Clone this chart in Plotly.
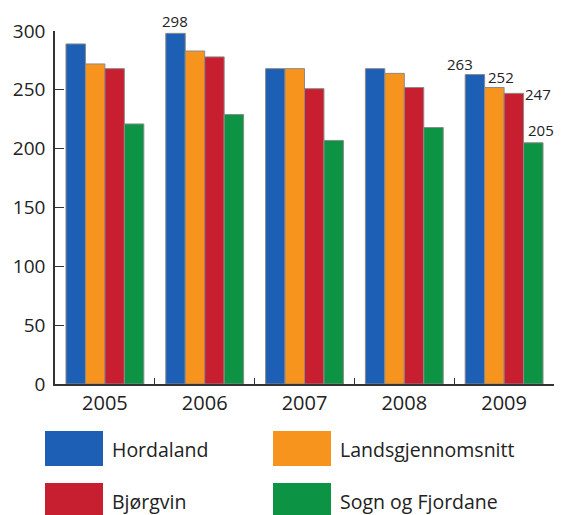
import plotly.graph_objects as go

years = ["2005", "2006", "2007", "2008", "2009"]
series = ["Hordaland", "Landsgjennomsnitt", "Bjørgvin", "Sogn og Fjordane"]
hordaland = [289, 298, 268, 268, 263]
landsgjennomsnitt = [272, 283, 268, 264, 252]
bjorgvin = [268, 278, 251, 252, 247]
sogn_og_fjordane = [221, 229, 207, 218, 205]
colors = ["#1d5fb4", "#f7941d", "#c81f30", "#0c9444"]

values = [hordaland, landsgjennomsnitt, bjorgvin, sogn_og_fjordane]
font = "Open Sans, DejaVu Sans, sans-serif"

# the page body has an 8px margin, so the figure is drawn 8px smaller
OFF = 8
W, H = 563 - OFF, 515 - OFF
L, R, T, B = 55 - OFF, 9, 31 - OFF, 131


def px(x, y):
    # pixel position in the window -> paper coordinates
    x, y = x - OFF, y - OFF
    return (x - L) / (W - L - R), (H - B - y) / (H - T - B)


fig = go.Figure()
for name, vals, col in zip(series, values, colors):
    fig.add_trace(go.Bar(x=years, y=vals, name=name,
                         marker=dict(color=col, line=dict(color="#8a8a8a", width=1))))

# value labels: (year index, series index, x nudge, y nudge)
labels = [(1, 0, 0, 0), (4, 0, -15, -1), (4, 1, 7, -2), (4, 2, 24, -13), (4, 3, 8, 1)]
anns = []
for yi, si, dx, dy in labels:
    v = values[si][yi]
    bar_shift = (si - 1.5) * 19.5
    # x in paper units (category centre) so labels past the axis end are not clipped
    anns.append(dict(x=(yi + 0.5) / len(years), y=v, xref="paper", yref="y",
                     text=str(v), showarrow=False, xanchor="center",
                     xshift=bar_shift + dx, yshift=dy, yanchor="bottom",
                     font=dict(size=15, color="#222", family=font)))

# custom legend with large swatches
legend_pos = [(45, 431), (273, 431), (45, 483), (273, 483)]
shapes = []
for (lx, ly), name, col in zip(legend_pos, series, colors):
    x0, y0 = px(lx, ly)
    x1, y1 = px(lx + 58, ly + 35)
    shapes.append(dict(type="rect", xref="paper", yref="paper", x0=x0, y0=y1, x1=x1, y1=y0,
                       fillcolor=col, line=dict(width=0), layer="above"))
    tx, ty = px(lx + 65, ly + 18)
    anns.append(dict(x=tx, y=ty, xref="paper", yref="paper", text=name, showarrow=False,
                     xanchor="left", yanchor="middle",
                     font=dict(size=19.5, color="#222", family=font)))

fig.update_layout(
    width=W, height=H,
    margin=dict(l=L, r=R, t=T, b=B, autoexpand=False),
    paper_bgcolor="white", plot_bgcolor="white",
    barmode="group", bargap=0.22, bargroupgap=0,
    showlegend=False,
    font=dict(family=font, color="#222"),
    xaxis=dict(type="category", range=[-0.5, 4.5], showline=True, linecolor="#333",
               linewidth=1.5, ticks="inside", tickson="boundaries", ticklen=6,
               tickcolor="#333", automargin=False, tickfont=dict(size=20),
               showgrid=False, tickangle=0),
    yaxis=dict(range=[0, 300], dtick=50, showline=True, linecolor="#333", linewidth=1.5,
               ticks="inside", ticklen=9, tickcolor="#333", tickfont=dict(size=19),
               showgrid=False, zeroline=False, ticklabelstandoff=4, automargin=False),
    annotations=anns,
    shapes=shapes,
)

fig.write_html("out.html")
